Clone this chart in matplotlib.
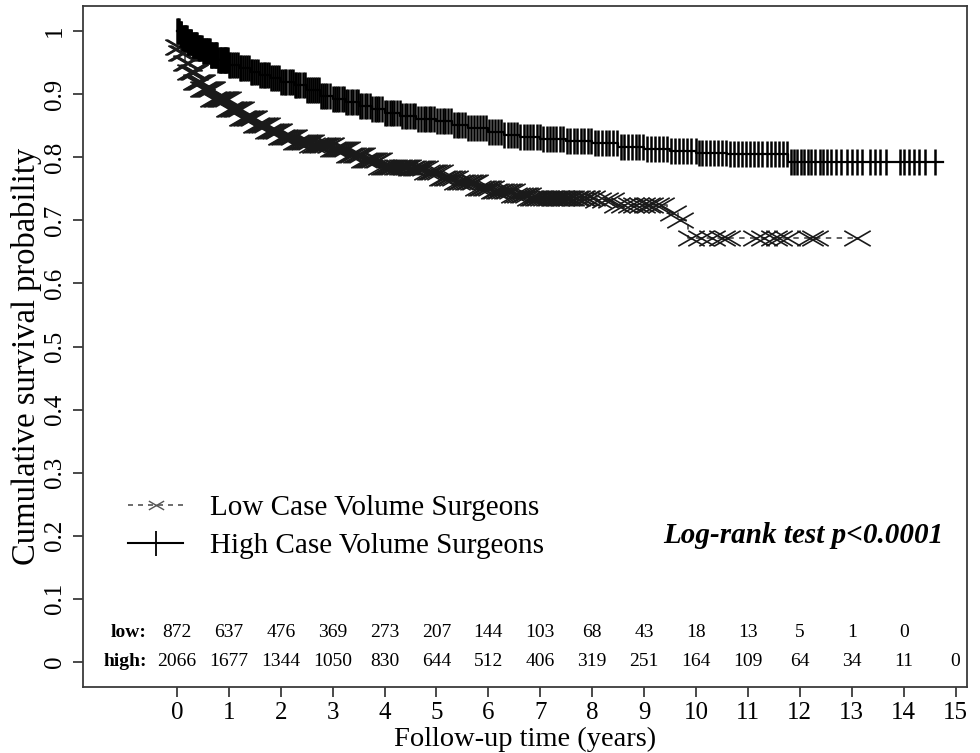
import numpy as np
import matplotlib
matplotlib.use("Agg")
import matplotlib.pyplot as plt
from matplotlib.path import Path
from matplotlib.lines import Line2D

plt.rcParams['font.family'] = ['Liberation Serif', 'DejaVu Serif']

# ---- Kaplan-Meier step curves ----
high_t = [0, 0.05, 0.1, 0.2, 0.3, 0.4, 0.5, 0.65, 0.8, 1.0, 1.2, 1.4, 1.6, 1.8, 2.0,
          2.25, 2.5, 2.75, 3.0, 3.25, 3.5, 3.75, 4.0, 4.3, 4.6, 5.0, 5.3, 5.6, 6.0,
          6.3, 6.6, 7.0, 7.5, 8.0, 8.5, 9.0, 9.5, 10.0, 10.6, 11.78, 14.75]
high_s = [1.0, 0.995, 0.99, 0.983, 0.978, 0.974, 0.969, 0.962, 0.955, 0.947, 0.941,
          0.936, 0.931, 0.926, 0.92, 0.914, 0.906, 0.898, 0.892, 0.887, 0.882, 0.877,
          0.871, 0.866, 0.861, 0.857, 0.851, 0.846, 0.84, 0.836, 0.832, 0.829, 0.826,
          0.822, 0.817, 0.813, 0.81, 0.807, 0.805, 0.792, 0.792]

low_t = [0, 0.02, 0.08, 0.15, 0.25, 0.35, 0.5, 0.7, 1.0, 1.25, 1.5, 1.75, 2.0, 2.3,
         2.6, 3.0, 3.3, 3.6, 3.9, 4.5, 4.8, 5.1, 5.4, 5.8, 6.1, 6.5, 6.8, 8.1, 8.4,
         9.45, 9.65, 9.85, 13.1]
low_s = [1.0, 0.975, 0.965, 0.95, 0.935, 0.92, 0.908, 0.892, 0.876, 0.863, 0.851,
         0.841, 0.832, 0.825, 0.82, 0.813, 0.803, 0.795, 0.785, 0.783, 0.776, 0.768,
         0.761, 0.752, 0.746, 0.741, 0.736, 0.733, 0.725, 0.712, 0.70, 0.672, 0.672]

# ---- censoring times ----
high_cens = [0.01, 0.02, 0.04, 0.05, 0.07, 0.08, 0.1, 0.12, 0.13, 0.15, 0.16, 0.18, 0.19,
             0.21, 0.22, 0.24, 0.25, 0.27, 0.28, 0.3, 0.31, 0.33, 0.34, 0.36, 0.37, 0.39,
             0.4, 0.42, 0.43, 0.45, 0.46, 0.48, 0.5, 0.52, 0.53, 0.55, 0.56, 0.58, 0.6,
             0.62, 0.63, 0.65, 0.66, 0.68, 0.7, 0.72, 0.73, 0.75, 0.76, 0.78, 0.8, 0.82,
             0.83, 0.85, 0.86, 0.88, 0.9, 0.92, 0.93, 0.95, 0.96, 0.98, 1.0, 1.03, 1.07,
             1.1, 1.14, 1.17, 1.21, 1.24, 1.28, 1.31, 1.35, 1.38, 1.42, 1.45, 1.49, 1.52,
             1.56, 1.6, 1.63, 1.67, 1.7, 1.74, 1.78, 1.81, 1.85, 1.89, 1.92, 1.96, 2.0,
             2.04, 2.08, 2.11, 2.15, 2.19, 2.23, 2.27, 2.3, 2.34, 2.38, 2.42, 2.46, 2.5,
             2.54, 2.58, 2.62, 2.66, 2.7, 2.74, 2.78, 2.82, 2.86, 2.9, 2.95, 3.0, 3.04,
             3.08, 3.13, 3.17, 3.21, 3.26, 3.3, 3.35, 3.39, 3.44, 3.48, 3.53, 3.57, 3.62,
             3.67, 3.71, 3.76, 3.81, 3.85, 3.9, 3.95, 4.0, 4.05, 4.1, 4.14, 4.19, 4.24,
             4.29, 4.34, 4.39, 4.44, 4.49, 4.54, 4.59, 4.64, 4.7, 4.75, 4.8, 4.85, 4.9,
             4.96, 5.01, 5.06, 5.12, 5.17, 5.22, 5.28, 5.33, 5.39, 5.44, 5.5, 5.55, 5.61,
             5.67, 5.72, 5.78, 5.84, 5.9, 5.95, 6.01, 6.07, 6.13, 6.19, 6.25, 6.31, 6.37,
             6.43, 6.49, 6.55, 6.61, 6.68, 6.74, 6.8, 6.86, 6.93, 6.99, 7.05, 7.12, 7.18,
             7.25, 7.31, 7.38, 7.44, 7.51, 7.58, 7.64, 7.71, 7.78, 7.85, 7.92, 7.98, 8.05,
             8.12, 8.19, 8.26, 8.33, 8.4, 8.47, 8.55, 8.62, 8.69, 8.76, 8.84, 8.91, 8.98,
             9.06, 9.13, 9.21, 9.28, 9.36, 9.44, 9.51, 9.59, 9.67, 9.75, 9.83, 9.91, 9.99,
             10.05, 10.12, 10.2, 10.27, 10.35, 10.42, 10.5, 10.58, 10.65, 10.73, 10.8,
             10.88, 10.96, 11.04, 11.12, 11.2, 11.28, 11.36, 11.44, 11.52, 11.6, 11.68,
             11.75, 11.82, 11.88, 11.95, 12.02, 12.08, 12.15, 12.22, 12.3, 12.38, 12.45,
             12.52, 12.6, 12.7, 12.8, 12.9, 13.0, 13.1, 13.2, 13.35, 13.45, 13.55, 13.65,
             13.92, 14.0, 14.1, 14.2, 14.3, 14.42, 14.6]
low_cens = [0.02, 0.04, 0.06, 0.08, 0.1, 0.12, 0.14, 0.17, 0.2, 0.22, 0.24, 0.26, 0.28,
            0.3, 0.32, 0.34, 0.36, 0.38, 0.4, 0.42, 0.44, 0.46, 0.48, 0.5, 0.52, 0.54,
            0.56, 0.58, 0.6, 0.62, 0.64, 0.66, 0.68, 0.7, 0.72, 0.75, 0.77, 0.8, 0.82,
            0.84, 0.86, 0.88, 0.9, 0.93, 0.95, 0.98, 1.0, 1.03, 1.05, 1.08, 1.1, 1.13,
            1.15, 1.18, 1.2, 1.23, 1.25, 1.28, 1.3, 1.33, 1.35, 1.38, 1.4, 1.43, 1.46,
            1.49, 1.52, 1.55, 1.58, 1.61, 1.64, 1.67, 1.7, 1.73, 1.76, 1.79, 1.82, 1.85,
            1.88, 1.91, 1.94, 1.97, 2.0, 2.03, 2.06, 2.09, 2.12, 2.16, 2.19, 2.23, 2.26,
            2.3, 2.33, 2.37, 2.4, 2.44, 2.47, 2.51, 2.54, 2.58, 2.61, 2.65, 2.68, 2.72,
            2.75, 2.79, 2.82, 2.86, 2.9, 2.94, 2.97, 3.01, 3.05, 3.09, 3.12, 3.16, 3.2,
            3.24, 3.28, 3.32, 3.36, 3.4, 3.44, 3.48, 3.52, 3.56, 3.6, 3.64, 3.68, 3.72,
            3.76, 3.8, 3.85, 3.89, 3.93, 3.98, 4.02, 4.06, 4.1, 4.15, 4.19, 4.24, 4.28,
            4.33, 4.37, 4.42, 4.46, 4.51, 4.55, 4.6, 4.64, 4.69, 4.73, 4.78, 4.82, 4.87,
            4.92, 4.96, 5.01, 5.06, 5.1, 5.15, 5.2, 5.25, 5.3, 5.35, 5.4, 5.45, 5.5,
            5.55, 5.6, 5.65, 5.7, 5.75, 5.8, 5.85, 5.9, 5.95, 6.0, 6.05, 6.1, 6.15, 6.2,
            6.25, 6.3, 6.35, 6.4, 6.46, 6.5, 6.56, 6.6, 6.66, 6.7, 6.76, 6.8, 6.86, 6.9,
            6.96, 7.0, 7.06, 7.1, 7.16, 7.2, 7.26, 7.3, 7.36, 7.4, 7.46, 7.5, 7.56, 7.6,
            7.67, 7.7, 7.78, 7.8, 7.88, 7.9, 8.0, 8.12, 8.24, 8.36, 8.48, 8.62, 8.75,
            8.85, 8.95, 9.05, 9.12, 9.22, 9.32, 9.55, 9.7, 9.9, 10.1, 10.3, 10.5, 10.6,
            11.15, 11.3, 11.5, 11.6, 11.75, 12.2, 12.3, 13.1]

# ---- number at risk ----
risk_times = list(range(0, 16))
low_risk = [872, 637, 476, 369, 273, 207, 144, 103, 68, 43, 18, 13, 5, 1, 0]
high_risk = [2066, 1677, 1344, 1050, 830, 644, 512, 406, 319, 251, 164, 109, 64, 34, 11, 0]

x_ticks = list(range(0, 16))
y_ticks = [0, 0.1, 0.2, 0.3, 0.4, 0.5, 0.6, 0.7, 0.8, 0.9, 1.0]
y_ticklabels = ['0', '0.1', '0.2', '0.3', '0.4', '0.5', '0.6', '0.7', '0.8', '0.9', '1']


def step_at(t_knots, s_knots, t):
    idx = np.searchsorted(np.asarray(t_knots), np.asarray(t), side='right') - 1
    return np.asarray(s_knots)[np.clip(idx, 0, len(s_knots) - 1)]


W, H = 980, 753
fig = plt.figure(figsize=(W / 100, H / 100), dpi=100)
ax = fig.add_axes([83 / W, 1 - 687 / H, (967 - 83) / W, (687 - 6) / H])

axc = '#3a3a3a'
# custom wide "x" marker
xpath = Path([(-1, -0.58), (1, 0.58), (-1, 0.58), (1, -0.58)],
             [Path.MOVETO, Path.LINETO, Path.MOVETO, Path.LINETO])

# low curve
ax.plot(low_t, low_s, drawstyle='steps-post', color='#555555', lw=1.3,
        linestyle=(0, (3, 3)))
ax.plot(low_cens, step_at(low_t, low_s, low_cens), linestyle='none', marker=xpath,
        markersize=19, mew=1.2, color='#1a1a1a')

# high curve
ax.plot(high_t, high_s, drawstyle='steps-post', color='black', lw=1.6)
ax.plot(high_cens, step_at(high_t, high_s, high_cens), linestyle='none', marker='|',
        markersize=19, mew=1.8, color='black')

ax.set_xlim(-1.81, 15.22)
ax.set_ylim(-0.04, 1.04)
ax.set_xticks(x_ticks)
ax.set_xticklabels([str(v) for v in x_ticks])
ax.set_yticks(y_ticks)
ax.set_yticklabels(y_ticklabels, rotation=90, va='center')

for sp in ax.spines.values():
    sp.set_color(axc)
    sp.set_linewidth(1.3)
ax.tick_params(axis='both', direction='out', length=7, width=1.3, color=axc,
               labelsize=18, labelcolor='black')
ax.tick_params(axis='x', pad=4)
ax.tick_params(axis='y', pad=5)

ax.set_xlabel('Follow-up time (years)', fontsize=20.5, labelpad=2)
ax.set_ylabel('Cumulative survival probability', fontsize=23.5)
ax.yaxis.set_label_coords(-0.046, 0.485)

# number-at-risk table
low_y = 0.046
high_y = 0.0
for t, n in zip(risk_times, low_risk):
    ax.text(t, low_y, str(n), ha='center', va='center', fontsize=14)
for t, n in zip(risk_times, high_risk):
    ax.text(t, high_y, str(n), ha='center', va='center', fontsize=14)
ax.text(-0.58, low_y, 'low:', ha='right', va='center', fontsize=14, fontweight='bold')
ax.text(-0.58, high_y, 'high:', ha='right', va='center', fontsize=14, fontweight='bold')

ax.text(14.76, 0.2, 'Log-rank test p<0.0001', ha='right', va='center', fontsize=21,
        fontweight='bold', fontstyle='italic')

handles = [
    Line2D([], [], color='#555555', lw=1.2, linestyle=(0, (3, 3)), marker=xpath,
           markersize=11, mew=1.0, markeredgecolor='#555555'),
    Line2D([], [], color='black', lw=1.5, marker='+', markersize=18, mew=1.3),
]
ax.legend(handles, ['Low Case Volume Surgeons', 'High Case Volume Surgeons'],
          loc='upper left', bbox_to_anchor=(45 / 884, (687 - 495) / 681),
          frameon=False, fontsize=21, handlelength=1.9, handletextpad=0.9,
          labelspacing=0.38, numpoints=1, borderaxespad=0, borderpad=0)

fig.savefig('out.png', dpi=100)
